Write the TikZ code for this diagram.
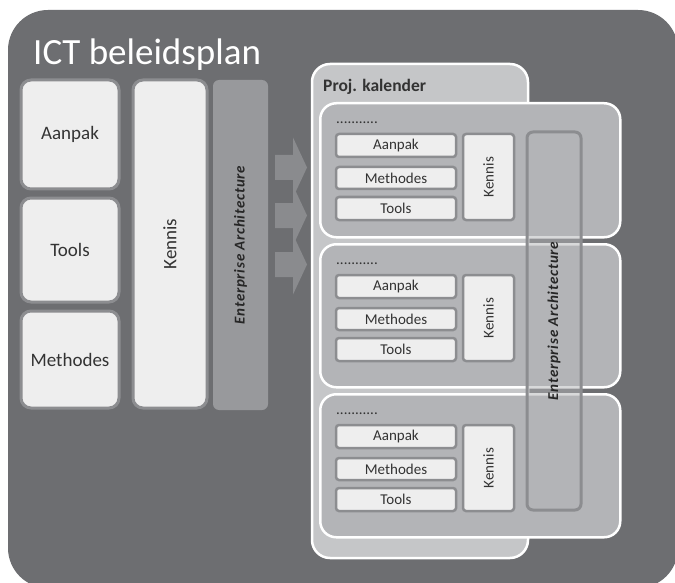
\documentclass[tikz,border=0pt]{standalone}
\usepackage{fontspec}
\setmainfont{Carlito}
\newfontfamily\eafont[LetterSpace=5]{Carlito}
\definecolor{outerc}{HTML}{6D6E71}
\definecolor{boxfill}{HTML}{EEEEEE}
\definecolor{boxline}{HTML}{8C8D90}
\definecolor{eafill}{HTML}{98999C}
\definecolor{arrowc}{HTML}{8A8B8E}
\definecolor{projfill}{HTML}{C5C6C8}
\definecolor{grpfill}{HTML}{B3B4B7}
\definecolor{txt}{HTML}{333333}
\tikzset{
  bigbox/.style={draw=boxline, line width=3, fill=boxfill, rounded corners=10, inner sep=0, text=txt, font=\fontsize{19}{22}\selectfont},
  smallbox/.style={draw=boxline, line width=2.5, fill=boxfill, rounded corners=3, inner sep=0, text=txt, font=\fontsize{15}{18}\selectfont},
  eabox/.style={fill=eafill, rounded corners=6, inner sep=0},
  projbox/.style={draw=white, line width=2.5, fill=projfill, rounded corners=18, inner sep=0},
  grpbox/.style={draw=white, line width=2.5, fill=grpfill, rounded corners=16, inner sep=0},
  rbox/.style={draw=boxline, line width=3, fill=grpfill, fill opacity=0.5, rounded corners=6, inner sep=0},
  eatext/.style={rotate=90, text=black!85, font=\eafont\fontsize{15}{18}\selectfont\bfseries\itshape},
  lbl/.style={text=txt, inner sep=0},
  blockarrow/.style={fill=arrowc}
}
\begin{document}
\begin{tikzpicture}[x=1pt,y=-1pt]
\useasboundingbox (0,0) rectangle (675,583);
\begin{scope}
\clip (0,0) rectangle (675,583);
\fill[white] (0,0) rectangle (675,583);
\fill[outerc, rounded corners=40] (8,10) rectangle (678,588);
\end{scope}
% title
\node[anchor=base west, text=white, inner sep=0, font=\fontsize{37}{40}\selectfont] (title) at (33,65) {ICT beleidsplan};
% left column
\node[bigbox, minimum width=98, minimum height=109] (aanpak) at (70,134.5) {Aanpak};
\node[bigbox, minimum width=98, minimum height=104] (tools) at (70,250) {Tools};
\node[bigbox, minimum width=98, minimum height=97] (methodes) at (70,359.5) {Methodes};
\node[bigbox, minimum width=74, minimum height=328] (kennis) at (170,244) {};
\node[lbl, rotate=90, font=\fontsize{19}{22}\selectfont] (kennist) at (kennis.center) {Kennis};
\node[eabox, minimum width=55, minimum height=330] (ea) at (240.5,245) {};
\node[eatext] (eat) at (ea.center) {Enterprise Architecture};
% arrows
\foreach \c [count=\i] in {167.5,215.5,264.5}{
  \fill[blockarrow] (275,\c-12.5) -- (293,\c-12.5) -- (293,\c-30) -- (307,\c) -- (293,\c+30) -- (293,\c+12.5) -- (275,\c+12.5) -- cycle;
}
% project calendar
\node[projbox, minimum width=216, minimum height=494] (proj) at (420,311) {};
\node[anchor=base west, text=txt, inner sep=0, font=\fontsize{17.5}{20}\selectfont\bfseries] (projt) at (323,92) {Proj. kalender};
\foreach \t/\h/\g in {102/134/a,243/143/b,393/143/c}{
  \node[grpbox, minimum width=300, minimum height=\h, anchor=north west] (grp\g) at (319,\t) {};
  \node[lbl, anchor=west, font=\fontsize{15}{18}\selectfont] (dots\g) at (336,\t+21) {...........};
  \node[smallbox, minimum width=120, minimum height=23] (aan\g) at (396,\t+43.5) {Aanpak};
  \node[smallbox, minimum width=120, minimum height=22] (met\g) at (396,\t+76) {Methodes};
  \node[smallbox, minimum width=120, minimum height=23] (too\g) at (396,\t+106.5) {Tools};
  \node[smallbox, minimum width=51, minimum height=86] (ken\g) at (488.5,\t+75) {};
  \node[lbl, rotate=90, font=\fontsize{15}{18}\selectfont] (kent\g) at (ken\g.center) {Kennis};
}
\node[rbox, minimum width=54, minimum height=378] (rea) at (554,321) {};
\node[eatext] (reat) at (rea.center) {Enterprise Architecture};
\end{tikzpicture}
\end{document}
